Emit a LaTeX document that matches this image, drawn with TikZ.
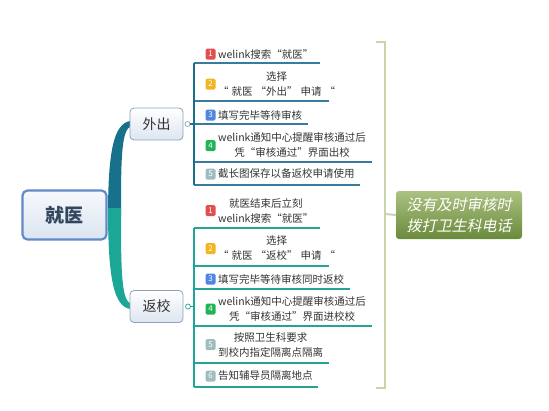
\documentclass[tikz,border=0pt]{standalone}
\usepackage{fontspec}
\setmainfont{Noto Sans CJK SC}
\newfontfamily\slantcjk[FakeSlant=0.2]{Noto Sans CJK SC}
\usetikzlibrary{positioning}
\definecolor{upc}{HTML}{17718A}
\definecolor{loc}{HTML}{1BA696}
\definecolor{uline}{HTML}{3A7A9C}
\definecolor{lline}{HTML}{25A394}
\definecolor{txt}{HTML}{333333}
\definecolor{rootb}{HTML}{6289C8}
\definecolor{subb}{HTML}{8FA3BA}
\definecolor{brk}{HTML}{CAD4AC}
\definecolor{b1}{HTML}{E0504F}
\definecolor{b2}{HTML}{F4B41F}
\definecolor{b3}{HTML}{4F86E0}
\definecolor{b4}{HTML}{22B356}
\definecolor{b5}{HTML}{9DBDBF}
\definecolor{roottxt}{HTML}{34465F}
\definecolor{sumtop}{HTML}{ABC282}
\definecolor{sumbot}{HTML}{6A8A3B}
\newcommand{\qgap}{\hspace{3pt}}
\tikzset{
  badge/.style={fill=#1, rounded corners=1.5pt, minimum width=10pt, minimum height=11pt, inner sep=0pt, text=white, font=\fontsize{8}{8}\selectfont},
  itemtxt/.style={anchor=west, inner sep=0pt, align=center, text=txt, font=\fontsize{10.5}{15}\selectfont},
  ulup/.style={draw=uline, line width=1.6pt},
  ullo/.style={draw=lline, line width=1.6pt},
  subbox/.style={draw=subb, line width=0.8pt, rounded corners=4pt, top color=white, bottom color={rgb,255:red,220;green,229;blue,240}, minimum width=53pt, minimum height=32pt, inner sep=0pt, text=txt, font=\fontsize{14}{14}\selectfont},
  knob/.style={circle, draw=#1, fill=white, line width=0.7pt, minimum size=5pt, inner sep=0pt}
}
\begin{document}
\begin{tikzpicture}[x=1pt,y=-1pt]
\useasboundingbox (0,0) rectangle (549,410);
% branches
\fill[upc] (108,216) .. controls (108,150) and (114,124) .. (130,121) -- (130,127) .. controls (121,131) and (121,165) .. (121,216) -- cycle;
\fill[loc] (108,208) .. controls (108,280) and (114,306) .. (130,309) -- (130,303) .. controls (121,299) and (121,265) .. (121,208) -- cycle;
% root
\node[draw=rootb, line width=2.2pt, rounded corners=5pt, top color={rgb,255:red,246;green,249;blue,252}, bottom color={rgb,255:red,219;green,228;blue,240}, minimum width=84pt, minimum height=49pt, text=roottxt, font=\fontsize{19}{19}\selectfont\bfseries] (root) at (64.5,215) {就医};
% sub nodes
\node[subbox] (out) at (156.5,124) {外出};
\node[subbox] (back) at (156.5,306.5) {返校};
\coordinate (uv1) at (194,63);
\coordinate (uv2) at (194,185);
\coordinate (lv1) at (194,228);
\coordinate (lv2) at (194,387);
\coordinate (uj) at (194,124);
\coordinate (lj) at (194,306.5);
\node[knob=subb] (ok) at (187.5,124) {};
\node[knob=lline] (bk) at (188,306.5) {};
\draw[upc, line width=1.4pt] (ok) -- (uj);
\draw[loc, line width=1.4pt] (bk) -- (lj);
% upper items
\node[badge=b1] (ub1) at (210.5,54) {1};
\node[itemtxt] (ut1) at (218,54) {welink搜索“就医”};
\node[badge=b2] (ub2) at (210.5,84) {2};
\node[itemtxt] (ut2) at (218,84) {选择\\“\qgap 就医\qgap“外出”\qgap 申请\qgap“};
\node[badge=b3] (ub3) at (210.5,115) {3};
\node[itemtxt] (ut3) at (218,115) {填写完毕等待审核};
\node[badge=b4] (ub4) at (210.5,145.5) {4};
\node[itemtxt] (ut4) at (218,145.5) {welink通知中心提醒审核通过后\\凭“审核通过”界面出校};
\node[badge=b5] (ub5) at (210.5,174) {5};
\node[itemtxt] (ut5) at (218,174) {截长图保存以备返校申请使用};
\draw[ulup] (uv1) -- (320,63);
\draw[ulup] (194,101) -- (329,101);
\draw[ulup] (uj) -- (308,124);
\draw[ulup] (194,162) -- (372,162);
\draw[ulup] (uv2) -- (360,185);
\draw[upc, line width=2.6pt] (uv1) -- (uv2);
% lower items
\node[badge=b1] (lb1) at (210.5,210.5) {1};
\node[itemtxt] (lt1) at (218,210.5) {就医结束后立刻\\welink搜索“就医”};
\node[badge=b2] (lb2) at (210.5,248.5) {2};
\node[itemtxt] (lt2) at (218,248.5) {选择\\“\qgap 就医\qgap“返校”\qgap 申请\qgap“};
\node[badge=b3] (lb3) at (210.5,279) {3};
\node[itemtxt] (lt3) at (218,279) {填写完毕等待审核同时返校};
\node[badge=b4] (lb4) at (210.5,309) {4};
\node[itemtxt] (lt4) at (218,309) {welink通知中心提醒审核通过后\\凭“审核通过”界面进校校};
\node[badge=b5] (lb5) at (210.5,344.5) {5};
\node[itemtxt] (lt5) at (218,344.5) {按照卫生科要求\\到校内指定隔离点隔离};
\node[badge=b5] (lb6) at (210.5,376) {6};
\node[itemtxt] (lt6) at (218,376) {告知辅导员隔离地点};
\draw[ullo] (lv1) -- (320,228);
\draw[ullo] (194,266) -- (329,266);
\draw[ullo] (194,289) -- (350,289);
\draw[ullo] (194,326) -- (372,326);
\draw[ullo] (194,363) -- (329,363);
\draw[ullo] (lv2) -- (318,387);
\draw[loc, line width=2.6pt] (lv1) -- (lv2);
% bracket
\coordinate (bt) at (385,42);
\coordinate (bb) at (385,388);
\coordinate (bm) at (385,214);
\draw[brk, line width=2.6pt] (376,42) -- (bt) -- (bb) -- (376,388);
\node[rounded corners=3pt, top color=sumtop, bottom color=sumbot, minimum width=126pt, minimum height=48pt, inner sep=0pt, align=center, text=white, font=\fontsize{15}{21}\selectfont\slantcjk] (sum) at (459,215) {没有及时审核时\\拨打卫生科电话};
\draw[brk, line width=2pt] (bm) -- (sum.west);
\end{tikzpicture}
\end{document}
